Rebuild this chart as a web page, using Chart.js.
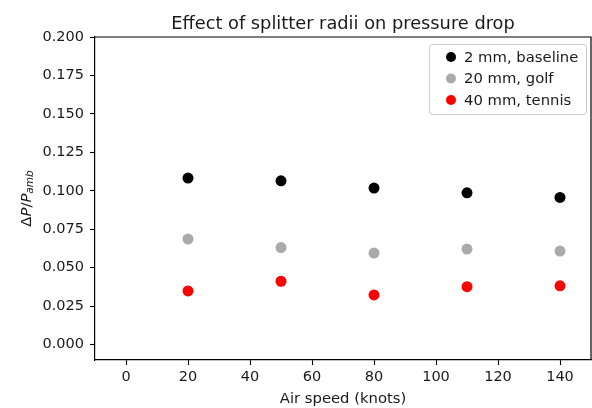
<!DOCTYPE html>
<html><head><meta charset="utf-8">
<script src="https://cdn.jsdelivr.net/npm/chart.js@4/dist/chart.umd.min.js"></script>
<style>html,body{margin:0;padding:0;background:#fff}canvas{display:block}</style>
</head><body>
<canvas id="c" width="592" height="408"></canvas>
<script>
const airSpeeds = [20, 50, 80, 110, 140];
const baseline = [0.1083, 0.1065, 0.1018, 0.0987, 0.0957];
const golf = [0.0686, 0.0631, 0.0595, 0.0621, 0.0608];
const tennis = [0.0349, 0.0412, 0.0323, 0.0377, 0.0382];
const seriesLabels = ['2 mm, baseline', '20 mm, golf', '40 mm, tennis'];
const seriesColors = ['#000000', '#aaaaaa', '#ff0000'];
const xTicks = [0, 20, 40, 60, 80, 100, 120, 140];
const yTicks = [0, 0.025, 0.05, 0.075, 0.1, 0.125, 0.15, 0.175, 0.2];
const titleText = 'Effect of splitter radii on pressure drop';
const xTitle = 'Air speed (knots)';

const FONT = '"DejaVu Sans", sans-serif';
const TXT = '#1a1a1a';

function pts(vals) { return airSpeeds.map((x, i) => ({x: x, y: vals[i]})); }

const decor = {
  id: 'decor',
  afterDraw(chart) {
    const ctx = chart.ctx, a = chart.chartArea;
    ctx.save();
    ctx.strokeStyle = '#000'; ctx.lineWidth = 1.2;
    ctx.beginPath();
    ctx.moveTo(a.left, a.top); ctx.lineTo(a.right, a.top); ctx.lineTo(a.right, a.bottom);
    ctx.stroke();
    ctx.fillStyle = TXT;
    ctx.font = '17.8px ' + FONT;
    ctx.textAlign = 'center'; ctx.textBaseline = 'alphabetic';
    ctx.fillText(titleText, (a.left + a.right) / 2, 29);
    ctx.translate(27, (a.top + a.bottom) / 2);
    ctx.rotate(-Math.PI / 2);
    const parts = [
      {t: 'Δ', f: '14.8px ' + FONT, dy: 0},
      {t: 'P', f: 'italic 14.8px ' + FONT, dy: 0},
      {t: '/', f: '14.8px ' + FONT, dy: 0},
      {t: 'P', f: 'italic 14.8px ' + FONT, dy: 0},
      {t: 'amb', f: 'italic 10.5px ' + FONT, dy: 3}
    ];
    let total = 0;
    parts.forEach(p => { ctx.font = p.f; p.w = ctx.measureText(p.t).width; total += p.w; });
    let x = -total / 2;
    ctx.textAlign = 'left'; ctx.textBaseline = 'middle';
    parts.forEach(p => { ctx.font = p.f; ctx.fillText(p.t, x, p.dy); x += p.w; });
    ctx.restore();

    ctx.save();
    const lx = 429, ly = 44, lw = 157, lh = 70, r = 3;
    ctx.fillStyle = 'rgba(255,255,255,0.85)';
    ctx.strokeStyle = '#cccccc'; ctx.lineWidth = 1;
    ctx.beginPath();
    ctx.roundRect(lx + 0.5, ly + 0.5, lw, lh, r);
    ctx.fill(); ctx.stroke();
    ctx.font = '14.8px ' + FONT;
    ctx.textAlign = 'left'; ctx.textBaseline = 'middle';
    chart.data.datasets.forEach((ds, i) => {
      const cy = 57 + i * 21.5;
      ctx.fillStyle = ds.backgroundColor;
      ctx.beginPath(); ctx.arc(451, cy, 5, 0, Math.PI * 2); ctx.fill();
      ctx.fillStyle = TXT;
      ctx.fillText(ds.label, 464, cy + 1);
    });
    ctx.restore();
  }
};

new Chart(document.getElementById('c'), {
  type: 'scatter',
  data: {
    datasets: [
      {label: seriesLabels[0], data: pts(baseline), backgroundColor: seriesColors[0]},
      {label: seriesLabels[1], data: pts(golf), backgroundColor: seriesColors[1]},
      {label: seriesLabels[2], data: pts(tennis), backgroundColor: seriesColors[2]}
    ]
  },
  options: {
    responsive: false,
    animation: false,
    devicePixelRatio: 1,
    layout: {padding: {top: 37, right: 1, left: 0, bottom: 0}, autoPadding: false},
    elements: {point: {radius: 5.5, borderWidth: 0, hoverRadius: 5.5}},
    plugins: {legend: {display: false}, tooltip: {enabled: false}, title: {display: false}},
    scales: {
      x: {
        type: 'linear', min: -10, max: 150,
        afterFit(s) { s.height = 48; s.paddingLeft = 0; s.paddingRight = 0; },
        afterBuildTicks(s) { s.ticks = xTicks.map(v => ({value: v})); },
        border: {display: true, color: '#000', width: 1.2},
        grid: {display: true, drawOnChartArea: false, drawTicks: true, tickLength: 5, color: '#000', tickWidth: 1.1},
        ticks: {color: TXT, font: {family: FONT, size: 14.5}, padding: 4, maxRotation: 0, autoSkip: false, callback: v => String(v)},
        title: {display: true, text: xTitle, color: TXT, font: {family: FONT, size: 14.8}, padding: {top: 1, bottom: 0}}
      },
      y: {
        type: 'linear', min: -0.01, max: 0.2,
        afterFit(s) { s.width = 95; s.paddingTop = 0; s.paddingBottom = 0; },
        afterBuildTicks(s) { s.ticks = yTicks.map(v => ({value: v})); },
        border: {display: true, color: '#000', width: 1.2},
        grid: {display: true, drawOnChartArea: false, drawTicks: true, tickLength: 5, color: '#000', tickWidth: 1.1},
        ticks: {color: TXT, font: {family: FONT, size: 14.5}, padding: 6, autoSkip: false, callback: v => v.toFixed(3)}
      }
    }
  },
  plugins: [decor]
});
</script>
</body></html>
